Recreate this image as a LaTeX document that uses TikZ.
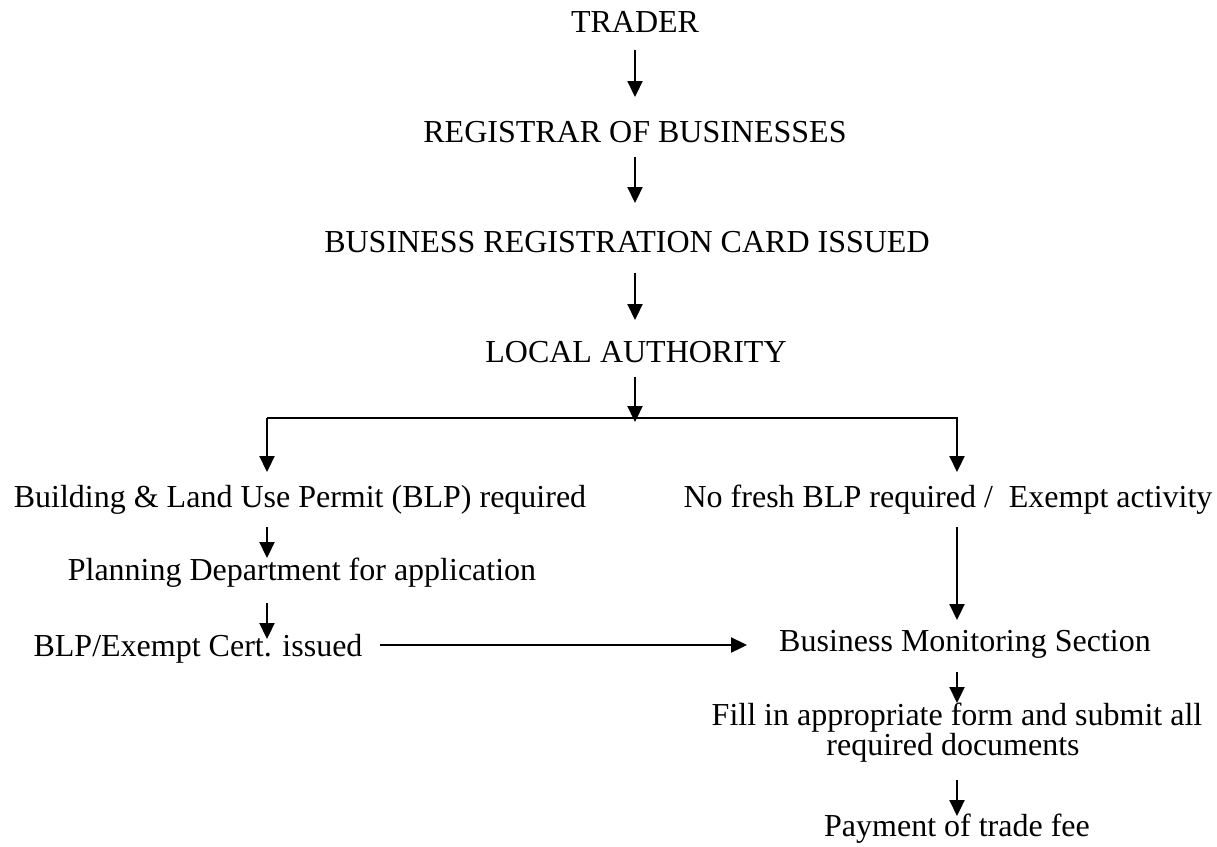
\documentclass[tikz,border=0pt]{standalone}
\usepackage{fontspec}
\setmainfont{Liberation Serif}
\usetikzlibrary{arrows.meta,calc}
\begin{document}
\begin{tikzpicture}[x=1pt,y=-1pt,
  lbl/.style={anchor=base,inner sep=0pt,font=\fontsize{32}{30}\selectfont},
  arr/.style={line width=2.2pt,line join=miter,-{Triangle[length=16pt,width=15pt]}}]
\useasboundingbox[fill=white] (0,0) rectangle (1217,846);
% nodes
\node[lbl] (trader)   at (635,32)  {TRADER};
\node[lbl] (reg)      at (635,142) {REGISTRAR OF BUSINESSES};
\node[lbl] (card)     at (627,252) {BUSINESS REGISTRATION CARD ISSUED};
\node[lbl] (local)    at (636,362) {LOCAL AUTHORITY};
\node[lbl] (blp)      at (300,507) {Building \& Land Use Permit (BLP) required};
\node[lbl] (nofresh)  at (948,507) {No fresh BLP required /\ \ Exempt activity};
\node[lbl] (planning) at (302,580) {Planning Department for application};
\node[lbl] (blpcert)  at (198,656) {BLP/Exempt Cert. issued};
\node[lbl] (bms)      at (965,651) {Business Monitoring Section};
\node[lbl] (fill1)    at (957,725) {Fill in appropriate form and submit all};
\node[lbl] (fill2)    at (953,755) {required documents};
\node[lbl] (pay)      at (957,836) {Payment of trade fee};
% branch points
\coordinate (lbr) at (267,418);
\coordinate (rbr) at (957,418);
% connectors
\draw[arr] ($(trader.base)+(0,18)$) -- ($(reg.base)+(0,-45)$);
\draw[arr] ($(reg.base)+(0,15)$) -- ($(card.base -| reg.base)+(0,-49)$);
\draw[arr] ($(card.base -| reg.base)+(0,21)$) -- ($(local.base -| reg.base)+(0,-42)$);
\draw[arr] ($(local.base -| reg.base)+(0,15)$) -- ($(local.base -| reg.base)+(0,60)$);
\draw[arr] (lbr) -- (rbr) -- ($(nofresh.base -| rbr)+(0,-35)$);
\draw[arr] (lbr) -- ($(blp.base -| lbr)+(0,-35)$);
\draw[arr] ($(blp.base -| lbr)+(0,20)$) -- ($(planning.base -| lbr)+(0,-22)$);
\draw[arr] ($(planning.base -| lbr)+(0,23)$) -- ($(blpcert.base -| lbr)+(0,-17)$);
\draw[arr] ($(nofresh.base -| rbr)+(0,20)$) -- ($(bms.base -| rbr)+(0,-31)$);
\draw[arr] ($(blpcert.base east)+(17,-11)$) -- ($(blpcert.base east -| bms.west)+(-32,-11)$);
\draw[arr] ($(bms.base -| rbr)+(0,21)$) -- ($(fill1.base -| rbr)+(0,-22)$);
\draw[arr] ($(fill2.base -| rbr)+(0,25)$) -- ($(pay.base -| rbr)+(0,-20)$);
\end{tikzpicture}
\end{document}
